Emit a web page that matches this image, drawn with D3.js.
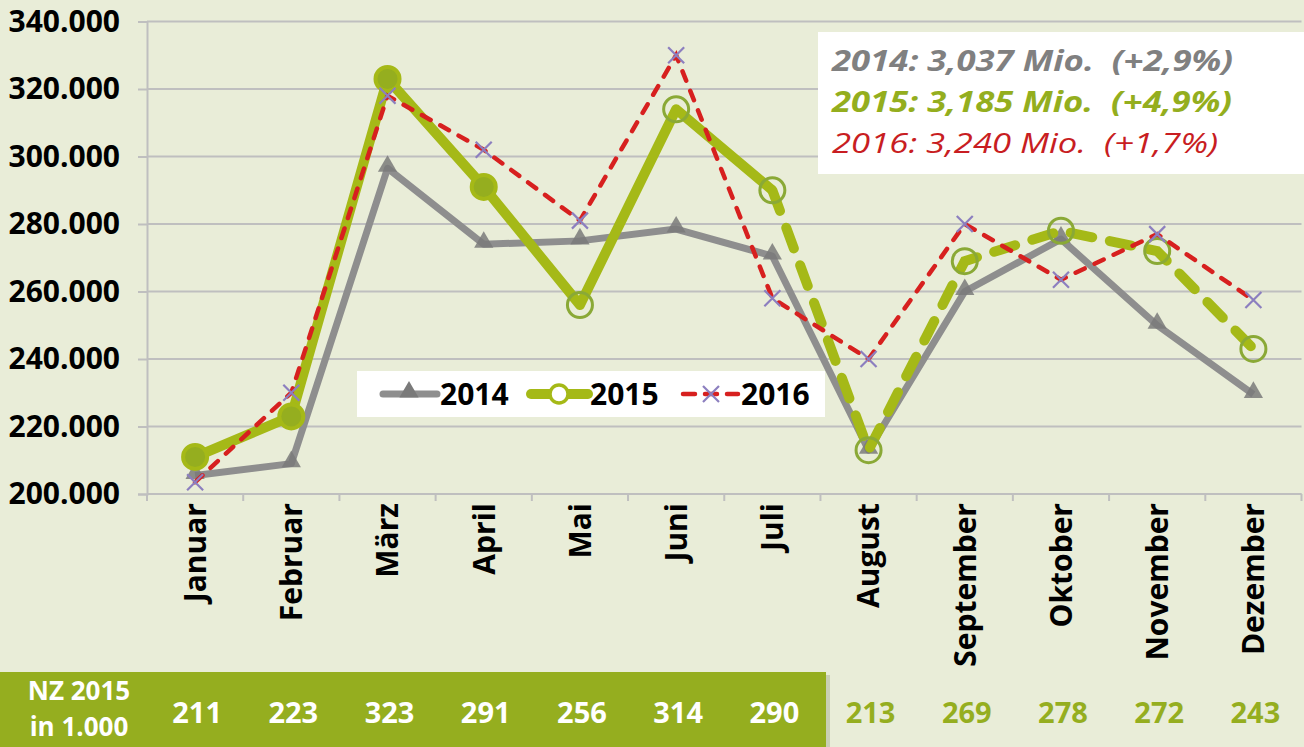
<!DOCTYPE html>
<html>
<head>
<meta charset="utf-8">
<script src="https://cdn.jsdelivr.net/npm/d3@7"></script>
<style>
  body { margin: 0; background: #e9edd8; }
  svg { display: block; font-family: 'Open Sans', sans-serif; }
</style>
</head>
<body>
<script>
// monthly values in thousands
const months = ['Januar', 'Februar', 'März', 'April', 'Mai', 'Juni', 'Juli', 'August', 'September', 'Oktober', 'November', 'Dezember'];
const values2014 = [205.5, 209, 296.5, 274, 275, 278.5, 270.5, 213, 260, 275.5, 250, 229.5];
const values2015 = [211, 223, 323, 291, 256, 314, 290, 213, 269, 278, 272, 243];
const values2016 = [203.5, 230, 318, 302, 281, 330, 258, 240, 280, 263.5, 277, 257.5];
const yTicks = [200, 220, 240, 260, 280, 300, 320, 340];
const seriesNames = ['2014', '2015', '2016'];
const summaryLines = [
	'2014: 3,037 Mio.  (+2,9%)',
	'2015: 3,185 Mio.  (+4,9%)',
	'2016: 3,240 Mio.  (+1,7%)',
];
const tableHead = ['NZ 2015', 'in 1.000'];
const lastActual = 6; // Juli: last month with solid 2015 line
const filledMarkers = 4; // first four 2015 markers are filled

const W = 1304;
const H = 747;
const plot = { left: 147, right: 1301.5, top: 21.5, bottom: 494 };

const gray = '#8e8e8e';
const green = '#a5b917';
const darkGreen = '#95ae1f';
const red = '#d7201f';
const purple = '#8c7fbf';

const de = d3.formatLocale({ decimal: ',', thousands: '.', grouping: [3], currency: ['', '€'] });
const fmt = de.format(',.0f');

const svg = d3.select('body').append('svg').attr('width', W).attr('height', H);

svg.append('rect').attr('width', W).attr('height', H).attr('fill', '#e9edd8');

const x = d3.scaleBand().domain(months).range([plot.left, plot.right]);
const y = d3.scaleLinear().domain([200, 340]).range([plot.bottom, plot.top]);
const cx = m => x(m) + x.bandwidth() / 2;

// grid
svg.append('g')
	.selectAll('line')
	.data(yTicks)
	.join('line')
	.attr('x1', plot.left)
	.attr('x2', plot.right)
	.attr('y1', d => y(d))
	.attr('y2', d => y(d))
	.attr('stroke', '#bfbfbf')
	.attr('stroke-width', 2);

// y axis
const yAxis = d3.axisLeft(y)
	.tickValues(yTicks)
	.tickSize(9)
	.tickPadding(18)
	.tickFormat(d => fmt(d * 1000));

svg.append('g')
	.attr('transform', `translate(${plot.left},0)`)
	.call(yAxis)
	.call(g => g.select('.domain').attr('stroke', '#bfbfbf').attr('stroke-width', 2))
	.call(g => g.selectAll('.tick line').attr('stroke', '#bfbfbf').attr('stroke-width', 2))
	.call(g => g.selectAll('.tick text')
		.attr('fill', '#000')
		.style('font-family', "'Open Sans', sans-serif")
		.style('font-weight', 700)
		.style('font-size', '30px'));

// x axis line + boundary ticks
svg.append('line')
	.attr('x1', plot.left).attr('x2', plot.right)
	.attr('y1', plot.bottom).attr('y2', plot.bottom)
	.attr('stroke', '#bfbfbf').attr('stroke-width', 2);

svg.append('g')
	.selectAll('line')
	.data(months.concat(['end']))
	.join('line')
	.attr('x1', d => (d === 'end' ? plot.right : x(d)))
	.attr('x2', d => (d === 'end' ? plot.right : x(d)))
	.attr('y1', plot.bottom)
	.attr('y2', plot.bottom + 7)
	.attr('stroke', '#bfbfbf')
	.attr('stroke-width', 2);

svg.append('g')
	.selectAll('text')
	.data(months)
	.join('text')
	.attr('transform', d => `translate(${cx(d)},503) rotate(-90)`)
	.attr('dy', '0.36em')
	.attr('text-anchor', 'end')
	.style('font-weight', 700)
	.style('font-size', '30px')
	.text(d => d);

const line = d3.line().x(d => cx(d.m)).y(d => y(d.v));
const pts = vals => vals.map((v, i) => ({ m: months[i], v, i }));

const p2014 = pts(values2014);
const p2015 = pts(values2015);
const p2016 = pts(values2016);

// 2014
svg.append('path')
	.datum(p2014)
	.attr('d', line)
	.attr('fill', 'none')
	.attr('stroke', gray)
	.attr('stroke-width', 7)
	.attr('stroke-linejoin', 'round');

const tri = d3.symbol().type(d3.symbolTriangle).size(160);
svg.append('g')
	.selectAll('path')
	.data(p2014)
	.join('path')
	.attr('d', tri)
	.attr('transform', d => `translate(${cx(d.m)},${y(d.v) - 2})`)
	.attr('fill', '#7a7a7a')
	.attr('opacity', 0.85);

// 2015
svg.append('path')
	.datum(p2015.slice(0, lastActual + 1))
	.attr('d', line)
	.attr('fill', 'none')
	.attr('stroke', green)
	.attr('stroke-width', 10)
	.attr('stroke-linejoin', 'round');

svg.append('path')
	.datum(p2015.slice(lastActual))
	.attr('d', line)
	.attr('fill', 'none')
	.attr('stroke', green)
	.attr('stroke-width', 10)
	.attr('stroke-linecap', 'round')
	.attr('stroke-dasharray', '22,18');

svg.append('g')
	.selectAll('circle')
	.data(p2015)
	.join('circle')
	.attr('cx', d => cx(d.m))
	.attr('cy', d => y(d.v))
	.attr('r', d => (d.i < filledMarkers ? 12 : 12.5))
	.attr('fill', d => (d.i < filledMarkers ? darkGreen : 'none'))
	.attr('stroke', d => (d.i < filledMarkers ? green : '#8aa936'))
	.attr('stroke-width', d => (d.i < filledMarkers ? 4 : 3));

// 2016
svg.append('path')
	.datum(p2016)
	.attr('d', line)
	.attr('fill', 'none')
	.attr('stroke', red)
	.attr('stroke-width', 4.5)
	.attr('stroke-linecap', 'round')
	.attr('stroke-dasharray', '10,11');

const cross = (sel, s) => sel
	.attr('d', `M${-s},${-s}L${s},${s}M${-s},${s}L${s},${-s}`)
	.attr('fill', 'none')
	.attr('stroke', purple)
	.attr('stroke-width', 2.2);

svg.append('g')
	.selectAll('path')
	.data(p2016)
	.join('path')
	.call(cross, 8)
	.attr('transform', d => `translate(${cx(d.m)},${y(d.v)})`);

// legend
const lg = svg.append('g');
lg.append('rect').attr('x', 357).attr('y', 371).attr('width', 468).attr('height', 46).attr('fill', '#fff');

const legendX = [383, 531, 683];
const ly = 394;
lg.append('line').attr('x1', legendX[0]).attr('x2', legendX[0] + 54).attr('y1', ly).attr('y2', ly)
	.attr('stroke', gray).attr('stroke-width', 7).attr('stroke-linecap', 'round');
lg.append('path').attr('d', tri).attr('transform', `translate(${legendX[0] + 26},${ly - 2})`).attr('fill', '#7a7a7a');

lg.append('line').attr('x1', legendX[1]).attr('x2', legendX[1] + 57).attr('y1', ly).attr('y2', ly)
	.attr('stroke', green).attr('stroke-width', 10).attr('stroke-linecap', 'round');
lg.append('circle').attr('cx', legendX[1] + 28).attr('cy', ly).attr('r', 9)
	.attr('fill', '#fff').attr('stroke', green).attr('stroke-width', 3.5);

lg.append('line').attr('x1', legendX[2]).attr('x2', legendX[2] + 55).attr('y1', ly).attr('y2', ly)
	.attr('stroke', red).attr('stroke-width', 4.5).attr('stroke-linecap', 'round').attr('stroke-dasharray', '12,10');
lg.append('path').call(cross, 8).attr('transform', `translate(${legendX[2] + 28},${ly})`);

lg.selectAll('text')
	.data(seriesNames)
	.join('text')
	.attr('x', (d, i) => legendX[i] + [57, 59, 58][i])
	.attr('y', ly)
	.attr('dy', '0.36em')
	.style('font-weight', 700)
	.style('font-size', '30px')
	.text(d => d);

// summary box
svg.append('rect').attr('x', 818).attr('y', 32).attr('width', W - 818).attr('height', 142).attr('fill', '#fff');

const summaryStyle = [
	{ fill: '#808080', weight: 700, len: 401 },
	{ fill: '#94ae1e', weight: 700, len: 400 },
	{ fill: '#c81d22', weight: 400, len: 386 },
];
svg.append('g')
	.selectAll('text')
	.data(summaryLines)
	.join('text')
	.attr('x', 832)
	.attr('y', (d, i) => 71 + i * 41)
	.attr('textLength', (d, i) => summaryStyle[i].len)
	.attr('lengthAdjust', 'spacingAndGlyphs')
	.attr('fill', (d, i) => summaryStyle[i].fill)
	.style('font-style', 'italic')
	.style('font-weight', (d, i) => summaryStyle[i].weight)
	.style('font-size', '28px')
	.style('white-space', 'pre')
	.text(d => d);

// table row
svg.append('rect').attr('x', 4).attr('y', 675).attr('width', 826).attr('height', 75).attr('fill', '#c9cfb4');
svg.append('rect').attr('x', 0).attr('y', 672).attr('width', 826).attr('height', 75).attr('fill', darkGreen);

svg.append('g')
	.selectAll('text')
	.data(tableHead)
	.join('text')
	.attr('x', 79)
	.attr('y', (d, i) => 700 + i * 36)
	.attr('text-anchor', 'middle')
	.attr('fill', '#fff')
	.style('font-weight', 700)
	.style('font-size', '26px')
	.text(d => d);

svg.append('g')
	.selectAll('text')
	.data(p2015)
	.join('text')
	.attr('x', d => cx(d.m) + 2)
	.attr('y', 723)
	.attr('text-anchor', 'middle')
	.attr('fill', d => (d.i <= lastActual ? '#fff' : darkGreen))
	.style('font-weight', 700)
	.style('font-size', '29px')
	.text(d => d.v);
</script>
</body>
</html>
